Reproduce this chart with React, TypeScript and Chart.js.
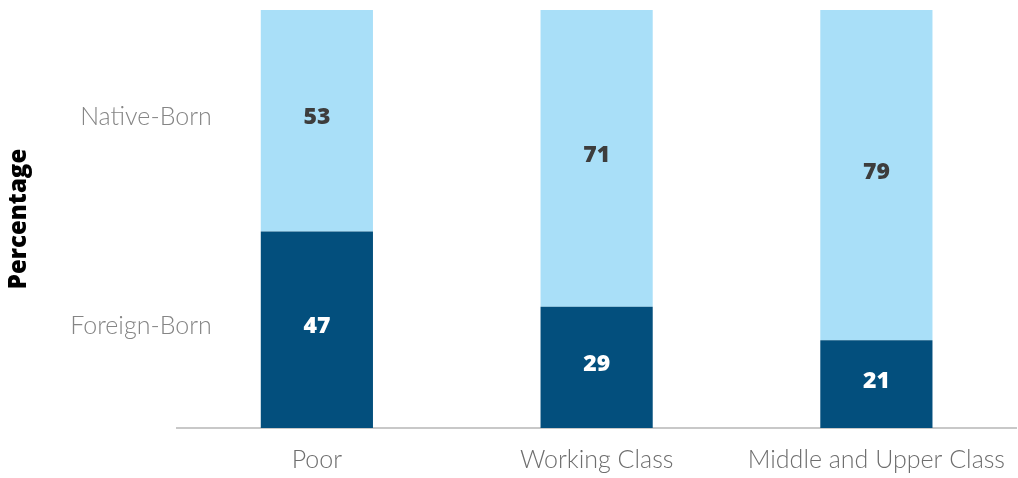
import React, { useEffect, useRef } from "react";
import { Chart, registerables } from "chart.js";

Chart.register(...registerables);

const categories = ["Poor", "Working Class", "Middle and Upper Class"];
const foreignBorn = [47, 29, 21];
const nativeBorn = [53, 71, 79];
const seriesNames = ["Foreign-Born", "Native-Born"];
const yTitle = "Percentage";

const LIGHT_FONT = "Lato, 'Open Sans', sans-serif";
const BOLD_FONT = "'Open Sans', Lato, sans-serif";

const valueLabels = {
  id: "valueLabels",
  afterDatasetsDraw(chart: any) {
    const ctx = chart.ctx;
    ctx.save();
    ctx.font = `800 23px ${BOLD_FONT}`;
    ctx.textAlign = "center";
    ctx.textBaseline = "middle";
    chart.data.datasets.forEach((ds: any, di: number) => {
      const meta = chart.getDatasetMeta(di);
      meta.data.forEach((el: any, i: number) => {
        const y = (el.y + el.base) / 2 - 3;
        ctx.fillStyle = di === 0 ? "#ffffff" : "#3d3d3d";
        ctx.fillText(String(ds.data[i]), el.x, y);
      });
    });
    ctx.restore();
  },
};

const seriesLabels = {
  id: "seriesLabels",
  afterDatasetsDraw(chart: any) {
    const ctx = chart.ctx;
    ctx.save();
    ctx.font = `300 25px ${LIGHT_FONT}`;
    ctx.textAlign = "right";
    ctx.textBaseline = "middle";
    ctx.fillStyle = "#858585";
    chart.data.datasets.forEach((ds: any, di: number) => {
      const el: any = chart.getDatasetMeta(di).data[0];
      const y = (el.y + el.base) / 2 - 4;
      ctx.fillText(ds.label, el.x - el.width / 2 - 49, y);
    });
    ctx.restore();
  },
};

export default function App() {
  const ref = useRef<HTMLCanvasElement>(null);
  useEffect(() => {
    const chart = new Chart(ref.current!, {
      type: "bar",
      data: {
        labels: categories,
        datasets: [
          {
            label: seriesNames[0],
            data: foreignBorn,
            backgroundColor: "#034f7d",
            barPercentage: 0.401,
            categoryPercentage: 1,
          },
          {
            label: seriesNames[1],
            data: nativeBorn,
            backgroundColor: "#a9dff8",
            barPercentage: 0.401,
            categoryPercentage: 1,
          },
        ],
      },
      options: {
        animation: false,
        responsive: true,
        maintainAspectRatio: false,
        layout: { padding: { top: 10, right: 0, left: 0, bottom: 0 } },
        plugins: { legend: { display: false }, tooltip: { enabled: false } },
        scales: {
          x: {
            stacked: true,
            grid: { display: false, drawTicks: false },
            border: { display: true, color: "#c8c8c8", width: 2 },
            ticks: {
              color: "#6e6e6e",
              font: { family: LIGHT_FONT, size: 25, weight: "300" as any },
              padding: 17,
              maxRotation: 0,
            },
            afterFit: (s: any) => {
              s.height = 50;
            },
          },
          y: {
            stacked: true,
            min: 0,
            max: 100,
            grid: { display: false, drawTicks: false },
            border: { display: false },
            ticks: { display: false },
            title: {
              display: true,
              text: yTitle,
              color: "#000000",
              font: { family: BOLD_FONT, size: 24, weight: "800" as any },
              padding: 5,
            },
            afterFit: (s: any) => {
              s.width = 177;
            },
          },
        },
      },
      plugins: [valueLabels, seriesLabels],
    });
    return () => chart.destroy();
  }, []);
  return (
    <div style={{ position: "absolute", left: 0, top: 0, width: 1018, height: 478, overflow: "hidden" }}>
      <div style={{ position: "relative", width: 1022, height: 478 }}>
        <canvas ref={ref} />
      </div>
    </div>
  );
}
